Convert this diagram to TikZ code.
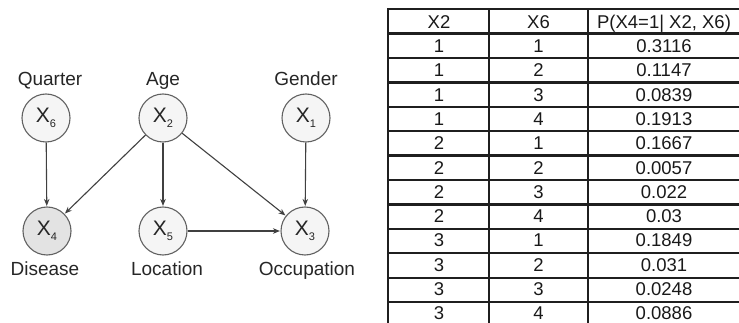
\documentclass[tikz,border=0pt]{standalone}
\usepackage{fontspec}
\setmainfont{Liberation Sans}
\usetikzlibrary{arrows.meta}
\newcommand{\xv}[1]{X\raisebox{-5pt}{\fontsize{11}{12}\selectfont#1}}
\begin{document}
\begin{tikzpicture}[x=1pt,y=-1pt,
  var/.style={circle, draw=black!62, line width=1.1pt, fill=gray!8, minimum size=48pt, inner sep=0pt, text=black!85, font=\fontsize{21}{24}\selectfont},
  obs/.style={var, fill=gray!22},
  lab/.style={font=\fontsize{19}{22}\selectfont, text=black!85, inner sep=0pt, anchor=base},
  edge/.style={draw=black!75, line width=1.1pt, -{Stealth[length=7pt,width=5.5pt]}, shorten >=0.5pt},
  cell/.style={font=\fontsize{18.5}{22}\selectfont, text=black!90, inner sep=0pt, anchor=base},
  rule/.style={draw=black!88, line width=2.4pt},
  vrule/.style={draw=black!88, line width=2pt}
]
\useasboundingbox (0,0) rectangle (739,323);

% --- Bayesian network ---
\node[var] (x6) at (46,118) {\xv{6}};
\node[var] (x2) at (163,118) {\xv{2}};
\node[var] (x1) at (306,118) {\xv{1}};
\node[obs] (x4) at (47,231) {\xv{4}};
\node[var] (x5) at (163,231) {\xv{5}};
\node[var] (x3) at (305,231) {\xv{3}};

\node[lab] (lq) at (50,86) {Quarter};
\node[lab] (la) at (163,86) {Age};
\node[lab] (lg) at (306,86) {Gender};
\node[lab] (ld) at (45,275) {Disease};
\node[lab] (ll) at (167,275) {Location};
\node[lab] (lo) at (307,275) {Occupation};

\draw[edge] (x6) -- (x4);
\draw[edge] (x2) -- (x4);
\draw[edge] (x2) -- (x5);
\draw[edge] (x2) -- (x3);
\draw[edge] (x1) -- (x3);
\draw[edge] (x5) -- (x3);

% --- CPT table ---
\foreach \k in {0,...,12}
  \draw[rule] (387,9.3+24.4*\k) -- (739,9.3+24.4*\k);
\draw[vrule] (388,8.1) -- (388,330);
\draw[vrule] (489,8.1) -- (489,330);
\draw[vrule] (588,8.1) -- (588,330);

\node[cell] (h1) at (439,28.3) {X2};
\node[cell] (h2) at (538.5,28.3) {X6};
\node[cell] (h3) at (664,28.3) {P(X4=1| X2, X6)};

\foreach \a/\b/\c [count=\i] in {1/1/0.3116,1/2/0.1147,1/3/0.0839,1/4/0.1913,2/1/0.1667,2/2/0.0057,2/3/0.022,2/4/0.03,3/1/0.1849,3/2/0.031,3/3/0.0248,3/4/0.0886}{
  \node[cell] (ra\i) at (439,28.3+24.4*\i-0.1*\i) {\a};
  \node[cell] (rb\i) at (538.5,28.3+24.4*\i-0.1*\i) {\b};
  \node[cell] (rc\i) at (664,28.3+24.4*\i-0.1*\i) {\c};
}
\end{tikzpicture}
\end{document}
